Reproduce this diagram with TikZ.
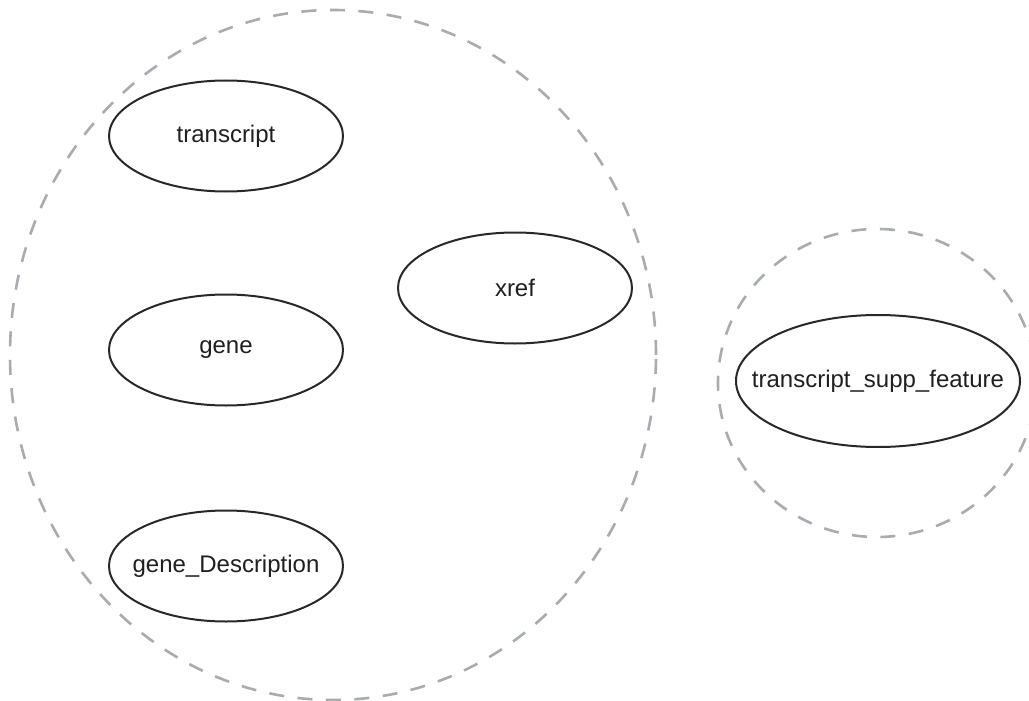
\documentclass[tikz,border=0pt]{standalone}
\usepackage{fontspec}
\setmainfont{Liberation Sans}
\usetikzlibrary{shapes.geometric}
\definecolor{groupgray}{RGB}{168,171,175}
\definecolor{edgedark}{RGB}{40,40,40}
\tikzset{
  entity/.style={ellipse, draw=edgedark, line width=2pt, inner sep=0pt,
    minimum width=234pt, minimum height=111pt,
    font=\fontsize{24}{28}\selectfont, text=black!88},
  group/.style={ellipse, draw=groupgray, line width=2.6pt,
    dash pattern=on 15pt off 13.5pt, inner sep=0pt},
}
% label whose width does not enlarge the surrounding ellipse
\newcommand{\tablelabel}[1]{\makebox[0pt][c]{#1}}
\begin{document}
\begin{tikzpicture}[x=1pt,y=-1pt]
  \clip (0,0) rectangle (1029,701);
  \useasboundingbox (0,0) rectangle (1029,701);
  % group outlines
  \node[group, minimum width=646pt, minimum height=690pt] (coregroup) at (333,355) {};
  \node[group, minimum width=318pt, minimum height=308pt] (suppgroup) at (877,383) {};
  % tables
  \node[entity] (transcript) at (226,136) {\tablelabel{transcript}};
  \node[entity] (gene) at (226,350) {\tablelabel{gene}};
  \node[entity] (genedesc) at (226,566) {\tablelabel{gene\_Description}};
  \node[entity] (xref) at (515,288) {\tablelabel{xref}};
  \node[entity, minimum width=284pt, minimum height=132pt] (suppfeature) at (878,381) {\tablelabel{transcript\_supp\_feature}};
\end{tikzpicture}
\end{document}
